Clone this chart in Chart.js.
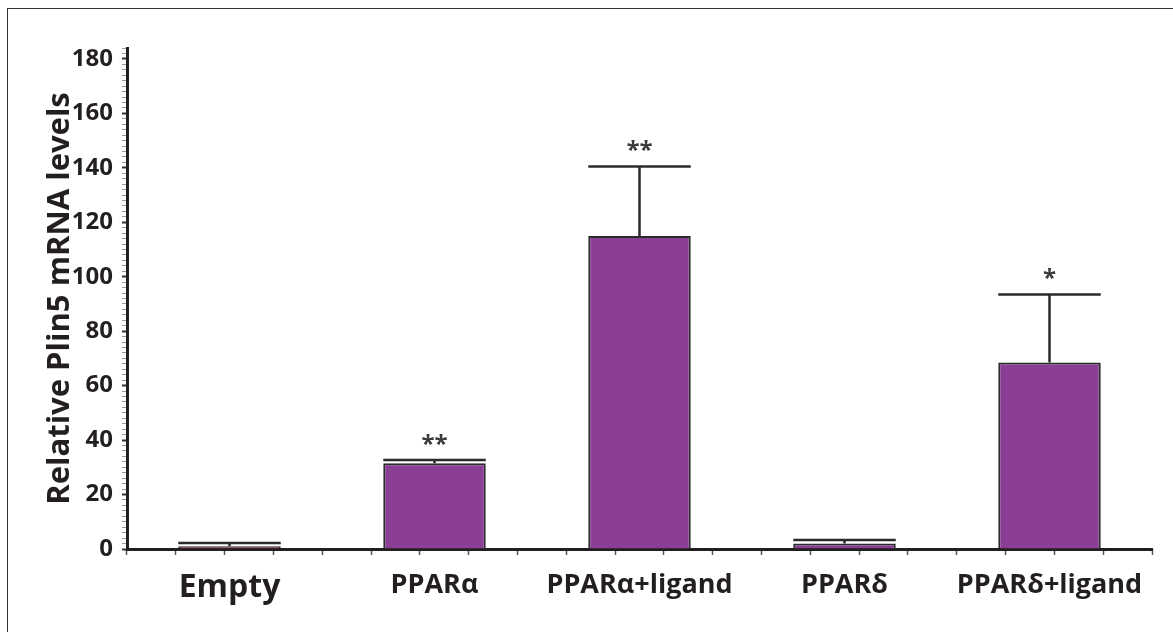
<!DOCTYPE html>
<html>
<head>
<meta charset="utf-8">
<script src="https://cdn.jsdelivr.net/npm/chart.js@4"></script>
<style>
  html, body { margin: 0; padding: 0; background: #fff; }
  #wrap { position: relative; width: 1173px; height: 632px; }
  #frame {
    position: absolute; left: 7px; top: 8px; right: 0; bottom: 0;
    border-left: 1.5px solid #333; border-top: 1.5px solid #333;
    pointer-events: none;
  }
</style>
</head>
<body>
<div id="wrap">
  <canvas id="chart" width="1173" height="632"></canvas>
  <div id="frame"></div>
</div>
<script>
const categories = ['Empty', 'PPARα', 'PPARα+ligand', 'PPARδ', 'PPARδ+ligand'];
const meanValues = [1, 31.5, 115, 2, 68.5];
const errorValues = [1.2, 1.2, 25.5, 1.3, 25];
const significance = ['', '**', '**', '', '*'];
const barColors = ['#7b2532', '#8a3f94', '#8a3f94', '#8a3f94', '#8a3f94'];
const yTickLabels = [0, 20, 40, 60, 80, 100, 120, 140, 160, 180];

const ink = '#231f20';
const fontFamily = "'Open Sans', 'DejaVu Sans', sans-serif";

// error bars (upper only) plus significance stars
const errorBarPlugin = {
  id: 'errorBars',
  afterDatasetsDraw(chart) {
    let ctx = chart.ctx;
    let yScale = chart.scales.y;
    let meta = chart.getDatasetMeta(0);
    ctx.save();
    ctx.strokeStyle = '#2b2b2b';
    ctx.lineWidth = 2.5;
    meta.data.forEach((bar, i) => {
      let top = yScale.getPixelForValue(meanValues[i] + errorValues[i]);
      let half = bar.width / 2;
      ctx.beginPath();
      ctx.moveTo(bar.x, bar.y);
      ctx.lineTo(bar.x, top);
      ctx.moveTo(bar.x - half, top);
      ctx.lineTo(bar.x + half, top);
      ctx.stroke();
      if (significance[i]) {
        ctx.fillStyle = '#3a3a3a';
        ctx.font = 'bold 24px ' + fontFamily;
        ctx.textAlign = 'center';
        ctx.textBaseline = 'bottom';
        ctx.fillText(significance[i], bar.x, top - 3);
      }
    });
    ctx.restore();
  }
};

new Chart(document.getElementById('chart'), {
  type: 'bar',
  data: {
    labels: categories,
    datasets: [{
      data: meanValues,
      backgroundColor: barColors,
      borderColor: '#2b2b2b',
      borderWidth: 2,
      borderSkipped: 'bottom',
      barPercentage: 0.5,
      categoryPercentage: 1
    }]
  },
  options: {
    responsive: false,
    animation: false,
    layout: {
      padding: { left: 0, top: 48, right: 21, bottom: 0 }
    },
    plugins: {
      legend: { display: false },
      tooltip: { enabled: false }
    },
    scales: {
      x: {
        type: 'category',
        weight: 1,
        grid: { display: false },
        border: { display: true, width: 3, color: ink },
        ticks: {
          color: ink,
          padding: (c) => (c.index === 0 ? 10 : 12),
          autoSkip: false,
          maxRotation: 0,
          font: (c) => ({
            family: fontFamily,
            weight: 'bold',
            size: c.index === 0 ? 32 : 27
          })
        },
        afterFit(scale) {
          scale.height = 83;
        }
      },
      xt: {
        type: 'linear',
        position: 'bottom',
        weight: 0,
        min: 0,
        max: 20,
        ticks: { display: false, stepSize: 1 },
        grid: {
          display: true,
          drawOnChartArea: false,
          drawTicks: true,
          tickLength: 6,
          tickColor: '#555',
          tickWidth: 1.5
        },
        border: { display: false },
        afterFit(scale) {
          scale.height = 0;
        }
      },
      y: {
        min: 0,
        max: 184,
        title: {
          display: true,
          text: 'Relative Plin5 mRNA levels',
          color: ink,
          font: { family: fontFamily, weight: 'bold', size: 31 },
          padding: { top: 42, bottom: 0 }
        },
        border: { display: true, width: 3, color: ink },
        grid: {
          display: true,
          drawOnChartArea: false,
          drawTicks: true,
          tickLength: 5,
          tickColor: (c) => (yTickLabels.includes(c.tick.value) ? '#333' : '#999'),
          tickWidth: (c) => (yTickLabels.includes(c.tick.value) ? 2 : 1)
        },
        ticks: {
          stepSize: 2,
          autoSkip: false,
          color: ink,
          padding: 9,
          font: { family: fontFamily, weight: 'bold', size: 24 },
          callback: (v) => (yTickLabels.includes(v) ? String(v) : '')
        },
        afterFit(scale) {
          scale.width = 127;
        }
      }
    }
  },
  plugins: [errorBarPlugin]
});
</script>
</body>
</html>
